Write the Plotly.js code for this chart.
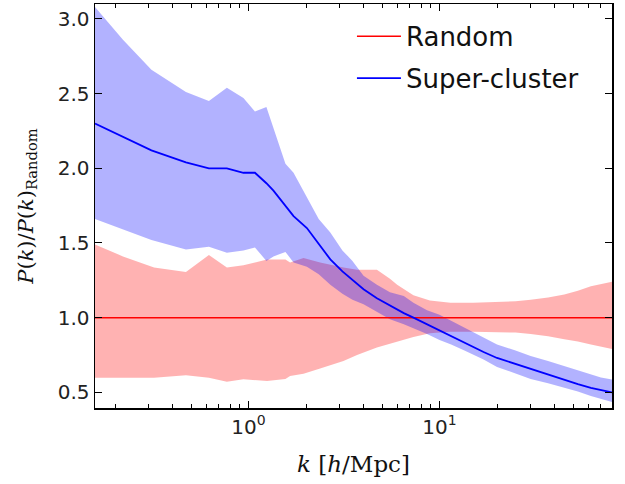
<!DOCTYPE html>
<html>
<head>
<meta charset="utf-8">
<script src="https://cdn.plot.ly/plotly-3.0.1.min.js"></script>
<style>html,body{margin:0;padding:0;background:#fff;}#chart{width:625px;height:484px;}</style>
</head>
<body>
<div id="chart"></div>
<script>
// Random catalogue: ratio band
var randomK     = [0.157, 0.22, 0.32, 0.47, 0.62, 0.77, 0.94, 1.25, 1.56, 1.65, 1.94, 2.37, 3.14, 3.7, 4.7, 5.5, 6.0, 7.3, 8.9, 11.4, 15, 20, 25, 30, 37, 45, 53, 62, 70, 80];
var randomMean  = [1, 1, 1, 1, 1, 1, 1, 1, 1, 1, 1, 1, 1, 1, 1, 1, 1, 1, 1, 1, 1, 1, 1, 1, 1, 1, 1, 1, 1, 1];
var randomUpper = [1.49, 1.41, 1.335, 1.305, 1.42, 1.335, 1.35, 1.39, 1.39, 1.37, 1.40, 1.37, 1.335, 1.32, 1.32, 1.26, 1.22, 1.15, 1.115, 1.10, 1.10, 1.105, 1.11, 1.12, 1.135, 1.155, 1.18, 1.21, 1.225, 1.24];
var randomLower = [0.598, 0.598, 0.598, 0.614, 0.598, 0.571, 0.587, 0.575, 0.59, 0.61, 0.625, 0.66, 0.71, 0.75, 0.80, 0.825, 0.84, 0.87, 0.895, 0.905, 0.905, 0.905, 0.90, 0.89, 0.875, 0.855, 0.84, 0.82, 0.805, 0.79];

// Super-cluster: ratio band
var clusterK     = [0.157, 0.22, 0.31, 0.47, 0.62, 0.77, 0.94, 1.08, 1.24, 1.35, 1.56, 1.72, 2.02, 2.33, 2.68, 3.1, 3.5, 4.0, 4.7, 5.5, 6.5, 7.3, 8.6, 10, 11.5, 13.5, 17, 20, 25, 30, 37, 45, 53, 62, 70, 80];
var clusterMean  = [2.30, 2.21, 2.12, 2.04, 2.00, 2.00, 1.97, 1.97, 1.90, 1.85, 1.75, 1.68, 1.60, 1.49, 1.39, 1.31, 1.25, 1.19, 1.13, 1.08, 1.03, 1.00, 0.955, 0.91, 0.875, 0.83, 0.77, 0.73, 0.69, 0.654, 0.615, 0.58, 0.555, 0.53, 0.515, 0.50];
var clusterUpper = [3.08, 2.86, 2.66, 2.51, 2.45, 2.54, 2.47, 2.38, 2.41, 2.27, 2.03, 1.97, 1.81, 1.66, 1.57, 1.45, 1.38, 1.28, 1.22, 1.17, 1.145, 1.10, 1.05, 1.02, 0.98, 0.933, 0.87, 0.82, 0.78, 0.743, 0.71, 0.676, 0.645, 0.62, 0.60, 0.585];
var clusterLower = [1.66, 1.59, 1.52, 1.457, 1.475, 1.435, 1.45, 1.47, 1.38, 1.41, 1.44, 1.37, 1.34, 1.29, 1.22, 1.16, 1.12, 1.09, 1.04, 0.99, 0.955, 0.93, 0.89, 0.85, 0.82, 0.78, 0.72, 0.67, 0.625, 0.59, 0.56, 0.53, 0.505, 0.475, 0.455, 0.435];

var xTickVals = [1, 10];
var xTickText = ['10<sup>0</sup>', '10<sup>1</sup>'];
var xMinorVals = [0.2,0.3,0.4,0.5,0.6,0.7,0.8,0.9,2,3,4,5,6,7,8,9,20,30,40,50,60,70,80];
var yTickVals = [0.5, 1.0, 1.5, 2.0, 2.5, 3.0];

var traces = [
  {x: randomK, y: randomLower, mode: 'lines', line: {width: 0}, showlegend: false, hoverinfo: 'skip'},
  {x: randomK, y: randomUpper, mode: 'lines', line: {width: 0}, fill: 'tonexty', fillcolor: 'rgba(255,0,0,0.3)', showlegend: false, hoverinfo: 'skip'},
  {x: clusterK, y: clusterLower, mode: 'lines', line: {width: 0}, showlegend: false, hoverinfo: 'skip'},
  {x: clusterK, y: clusterUpper, mode: 'lines', line: {width: 0}, fill: 'tonexty', fillcolor: 'rgba(0,0,255,0.3)', showlegend: false, hoverinfo: 'skip'},
  {x: randomK, y: randomMean, mode: 'lines', name: 'Random', legendgroup: 'r', line: {color: '#ff0000', width: 1.5}},
  {x: clusterK, y: clusterMean, mode: 'lines', name: 'Super-cluster', legendgroup: 'c', line: {color: '#0000ff', width: 1.8}}
];

var axisCommon = {
  showline: true, linecolor: '#000', linewidth: 1.5, mirror: 'allticks',
  ticks: 'inside', ticklen: 7, tickwidth: 1, tickcolor: '#000',
  showgrid: false, zeroline: false,
  tickfont: {family: 'DejaVu Sans', size: 20, color: '#222'}
};

var layout = {
  width: 625, height: 484,
  margin: {l: 95, r: 13, t: 4, b: 76},
  paper_bgcolor: '#fff', plot_bgcolor: '#fff',
  showlegend: true,
  legend: {x: 0.497, y: 0.978, xanchor: 'left', yanchor: 'top', bgcolor: 'rgba(0,0,0,0)',
           traceorder: 'grouped', tracegroupgap: 5, itemwidth: 44,
           font: {family: 'DejaVu Sans', size: 26, color: '#111'}},
  xaxis: Object.assign({}, axisCommon, {
    type: 'log', range: [Math.log10(0.157), Math.log10(80)],
    tickmode: 'array', tickvals: xTickVals, ticktext: xTickText,
    minor: {tickmode: 'array', tickvals: xMinorVals, ticks: 'inside', ticklen: 4, tickcolor: '#000', tickwidth: 1, showgrid: false},
    title: {text: '<i>k</i> [<i>h</i>/Mpc]', font: {family: 'DejaVu Serif', size: 23, color: '#111'}, standoff: 18}
  }),
  yaxis: Object.assign({}, axisCommon, {
    range: [0.395, 3.1],
    tickmode: 'array', tickvals: yTickVals, tickformat: '.1f',
    title: {text: '<i>P</i>(<i>k</i>)/<i>P</i>(<i>k</i>)<sub>Random</sub>', font: {family: 'DejaVu Serif', size: 21, color: '#111'}, standoff: 18}
  })
};

Plotly.newPlot('chart', traces, layout, {displayModeBar: false, staticPlot: true});
</script>
</body>
</html>
